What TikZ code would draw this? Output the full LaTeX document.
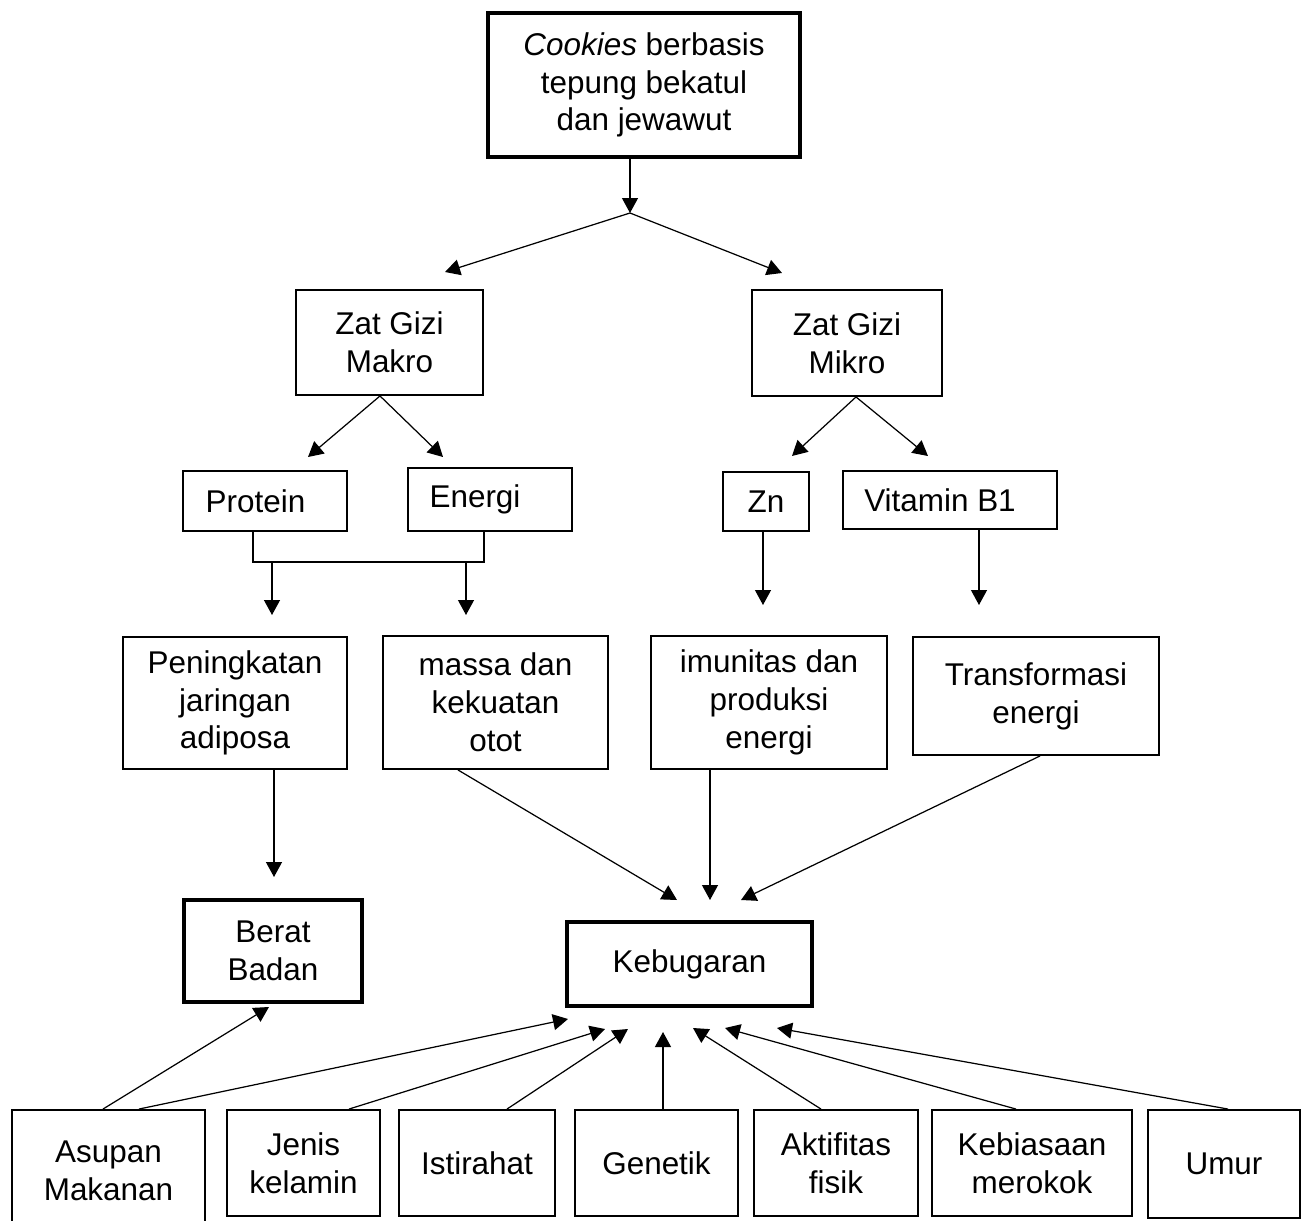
\documentclass[tikz,border=0pt]{standalone}
\usepackage{fontspec}
\setmainfont{Liberation Sans}
\usetikzlibrary{arrows.meta}

\tikzset{
  box/.style={draw, line width=1.1pt, align=center, inner sep=0pt,
    font=\fontsize{17.9}{21.5}\selectfont},
  thickbox/.style={box, line width=2.3pt},
  sz/.style 2 args={minimum width=#1cm, minimum height=#2cm},
  arr/.style={-{Triangle[length=0.30cm,width=0.32cm]}, line width=0.7pt},
}

\begin{document}
\begin{tikzpicture}[x=0.02cm, y=-0.02cm]
  \useasboundingbox (0,0) rectangle (1306,1221);

  % top of the tree
  \node[thickbox, sz={6.24}{2.88}] (cookies) at (644,85) {\textit{Cookies} berbasis\\tepung bekatul\\dan jewawut};
  \node[box, sz={3.74}{2.10}] (makro) at (389.5,342.5) {Zat Gizi\\Makro};
  \node[box, sz={3.80}{2.12}] (mikro) at (847,343) {Zat Gizi\\Mikro};

  \node[box, sz={3.28}{1.20}] (protein) at (265,501) {Protein\hspace*{0.38cm}};
  \node[box, sz={3.28}{1.26}] (energi) at (490,499.5) {Energi\hspace*{0.6cm}};
  \node[box, sz={1.72}{1.18}] (zn) at (766,501.5) {Zn};
  \node[box, sz={4.28}{1.16}] (vitb1) at (950,500) {Vitamin B1\hspace*{0.4cm}};

  \node[box, sz={4.48}{2.64}] (peningkatan) at (235,703) {Peningkatan\\jaringan\\adiposa};
  \node[box, sz={4.50}{2.66}] (massa) at (495.5,702.5) {massa dan\\kekuatan\\otot};
  \node[box, sz={4.72}{2.66}] (imunitas) at (769,702.5) {imunitas dan\\produksi\\energi};
  \node[box, sz={4.92}{2.36}] (transformasi) at (1036,696) {Transformasi\\energi};

  \node[thickbox, sz={3.56}{2.04}] (berat) at (273,951) {Berat\\Badan};
  \node[thickbox, sz={4.90}{1.68}] (kebugaran) at (689.5,964) {Kebugaran};

  % bottom row
  \node[box, sz={3.86}{2.44}] (asupan) at (108.5,1171) {Asupan\\Makanan};
  \node[box, sz={3.06}{2.12}] (jenis) at (303.5,1163) {Jenis\\kelamin};
  \node[box, sz={3.12}{2.12}] (istirahat) at (477,1163) {Istirahat};
  \node[box, sz={3.26}{2.12}] (genetik) at (656.5,1163) {Genetik};
  \node[box, sz={3.28}{2.12}] (aktifitas) at (836,1163) {Aktifitas\\fisik};
  \node[box, sz={4.00}{2.12}] (kebiasaan) at (1032,1163) {Kebiasaan\\merokok};
  \node[box, sz={3.04}{2.16}] (umur) at (1224,1164) {Umur};

  % arrow tips that stop short of a box
  \foreach \name/\x/\y in {split/630/213, tmak/445/272, tmik/782/273,
      tpro/308/457, tene/443/457, tzn/792/456, tvit/928/456,
      brk/0/562, tpen/272/615, tmas/466/615, timu/763/605, ttra/979/605,
      tbb/274/877, tk1/677/900, tk2/710/900, tk3/741/900,
      tbbu/269/1007, tu1/568/1019, tu2/605/1029, tu3/628/1029,
      tu4/663/1032, tu5/693/1028, tu6/725/1028, tu7/777/1028}
    \coordinate (\name) at (\x,\y);

  \draw[arr] (cookies.south -| split) -- (split);
  \draw[arr] (split) -- (tmak);
  \draw[arr] (split) -- (tmik);

  \draw[arr] (makro.south -| 380,0) -- (tpro);
  \draw[arr] (makro.south -| 380,0) -- (tene);
  \draw[arr] (mikro.south -| 856,0) -- (tzn);
  \draw[arr] (mikro.south -| 856,0) -- (tvit);

  % Protein and Energi join
  \draw[line width=0.7pt] (protein.south -| 253,0) |- (brk -| 484,0) -- (energi.south -| 484,0);
  \draw[arr] (tpen |- brk) -- (tpen);
  \draw[arr] (tmas |- brk) -- (tmas);
  \draw[arr] (zn.south -| timu) -- (timu);
  \draw[arr] (vitb1.south -| ttra) -- (ttra);

  \draw[arr] (peningkatan.south -| tbb) -- (tbb);
  \draw[arr] (massa.south -| 458,0) -- (tk1);
  \draw[arr] (imunitas.south -| tk2) -- (tk2);
  \draw[arr] (transformasi.south -| 1040,0) -- (tk3);

  % factors below
  \draw[arr] (asupan.north -| 103,0) -- (tbbu);
  \draw[arr] (asupan.north -| 139,0) -- (tu1);
  \draw[arr] (jenis.north -| 349,0) -- (tu2);
  \draw[arr] (istirahat.north -| 507,0) -- (tu3);
  \draw[arr] (genetik.north -| tu4) -- (tu4);
  \draw[arr] (aktifitas.north -| 821,0) -- (tu5);
  \draw[arr] (kebiasaan.north -| 1016,0) -- (tu6);
  \draw[arr] (umur.north -| 1228,0) -- (tu7);
\end{tikzpicture}
\end{document}
